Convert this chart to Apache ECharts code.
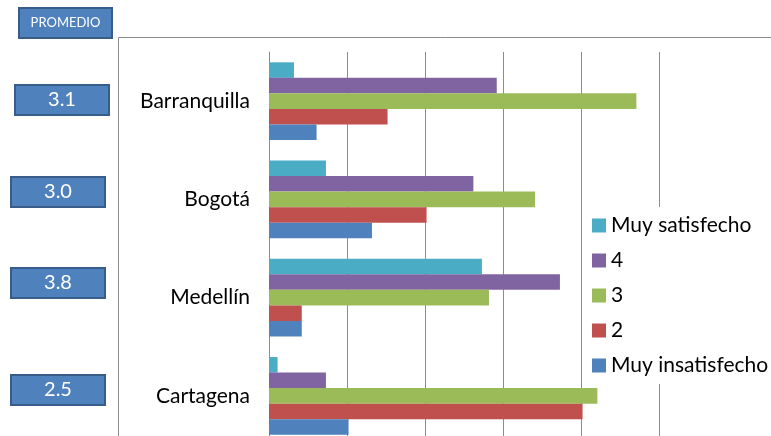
<!DOCTYPE html>
<html>
<head>
<meta charset="utf-8">
<script src="https://cdn.jsdelivr.net/npm/echarts@6/dist/echarts.min.js"></script>
<style>
  html, body { margin: 0; padding: 0; background: #fff; }
  #chart { width: 771px; height: 436px; }
</style>
</head>
<body>
<div id="chart"></div>
<script>
// ciudades, de arriba hacia abajo
var ciudades = ['Barranquilla', 'Bogotá', 'Medellín', 'Cartagena']
var promedios = ['3.1', '3.0', '3.8', '2.5']

// porcentaje de respuestas por nivel
var muySatisfecho = [3.2, 7.3, 27.3, 1.1]
var nivel4 = [29.2, 26.2, 37.3, 7.3]
var nivel3 = [47.1, 34.1, 28.2, 42.1]
var nivel2 = [15.2, 20.2, 4.2, 40.2]
var muyInsatisfecho = [6.1, 13.2, 4.2, 10.2]

var chart = echarts.init(document.getElementById('chart'))

function serie(name, color, data) {
  return {
    name: name,
    type: 'bar',
    data: data,
    barGap: 0,
    barCategoryGap: '21%',
    itemStyle: { color: color },
    animation: false
  }
}

// cajas de promedio a la izquierda
var boxTops = [84, 176, 267, 374]
var boxLefts = [14, 10, 10, 10]
var boxes = promedios.map(function(p, i) {
  return {
    type: 'group',
    left: boxLefts[i],
    top: boxTops[i],
    children: [
      { type: 'rect', shape: { x: 0, y: 0, width: 94, height: 30 },
        style: { fill: '#4F81BD', stroke: '#385D8A', lineWidth: 2 } },
      { type: 'text', x: 47, y: 15,
        style: { text: p, fill: '#fff', font: '20px Lato, sans-serif', align: 'center', verticalAlign: 'middle' } }
    ]
  }
})

chart.setOption({
  backgroundColor: '#fff',
  grid: {
    left: 269,
    top: 52,
    width: 390,
    height: 393,
    outerBoundsMode: 'none'
  },
  legend: {
    orient: 'vertical',
    left: 584,
    top: 207,
    padding: [8, 20, 8, 8],
    backgroundColor: '#fff',
    itemWidth: 14,
    itemHeight: 14,
    itemGap: 14,
    icon: 'rect',
    textStyle: { fontSize: 21, lineHeight: 20, color: '#000', fontFamily: 'Lato' },
    data: ['Muy satisfecho', '4', '3', '2', 'Muy insatisfecho']
  },
  xAxis: {
    type: 'value',
    min: 0,
    max: 50,
    interval: 10,
    axisLine: { show: false },
    axisTick: { show: false },
    axisLabel: { show: false },
    splitLine: { lineStyle: { color: '#8c8c8c', width: 1 } }
  },
  yAxis: {
    type: 'category',
    inverse: true,
    data: ciudades,
    axisLine: { lineStyle: { color: '#8c8c8c', width: 1 } },
    axisTick: { length: 7, lineStyle: { color: '#8c8c8c' } },
    axisLabel: { margin: 19, fontSize: 21, color: '#000', fontFamily: 'Lato' }
  },
  graphic: [
    { type: 'rect', shape: { x: 118.5, y: 37.5, width: 700, height: 500 },
      style: { fill: 'none', stroke: '#8c8c8c', lineWidth: 1 }, z: -1 },
    { type: 'group', left: 18, top: 7, children: [
      { type: 'rect', shape: { x: 0, y: 0, width: 93, height: 30 },
        style: { fill: '#4F81BD', stroke: '#385D8A', lineWidth: 2 } },
      { type: 'text', x: 46.5, y: 15,
        style: { text: 'PROMEDIO', fill: '#fff', font: '13px Lato, sans-serif', align: 'center', verticalAlign: 'middle' } }
    ] }
  ].concat(boxes),
  series: [
    serie('Muy satisfecho', '#4BACC6', muySatisfecho),
    serie('4', '#8064A2', nivel4),
    serie('3', '#9BBB59', nivel3),
    serie('2', '#C0504D', nivel2),
    serie('Muy insatisfecho', '#4F81BD', muyInsatisfecho)
  ]
})
</script>
</body>
</html>
